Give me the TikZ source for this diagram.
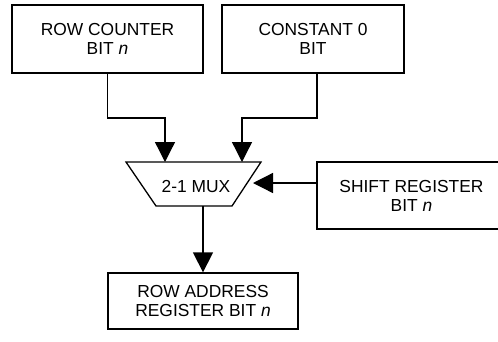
\documentclass[tikz,border=0pt]{standalone}
\usepackage{fontspec}
\setmainfont{Liberation Sans}
\usetikzlibrary{arrows.meta}
\begin{document}
\begin{tikzpicture}[x=1pt,y=-1pt,
  txt/.style={align=center,font=\fontsize{17.4}{19}\selectfont},
  blk/.style={draw,line width=1.3pt,inner sep=0pt,txt},
  conn/.style={line width=1.3pt,-{Triangle[length=20pt,width=20pt]}}]
\useasboundingbox (0,0) rectangle (498,341);
\node[blk,minimum width=191pt,minimum height=68pt] (rc) at (107.5,39) {ROW COUNTER\\BIT \textit{n}};
\node[blk,minimum width=182pt,minimum height=68pt] (c0) at (313,39) {CONSTANT 0\\BIT};
\node[blk,minimum width=200pt,minimum height=67pt] (sr) at (417,195.5) {};
\node[txt] (srt) at (411.5,195.5) {SHIFT REGISTER\\BIT \textit{n}};
\node[blk,minimum width=190pt,minimum height=56pt] (ra) at (203,301) {ROW ADDRESS\\REGISTER BIT \textit{n}};
\draw[line width=1.3pt] (126,162) -- (261,162) -- (232,206) -- (156,206) -- cycle;
\node[txt] (mux) at (196,187) {2-1 MUX};
\coordinate (m1) at (165,162);
\coordinate (m2) at (242,162);
\coordinate (m3) at (253,183);
\coordinate (m4) at (203,206);
\draw[conn] (rc.south) |- (165,118) -- (m1);
\draw[conn] ([xshift=4pt]c0.south) |- (242,118) -- (m2);
\draw[conn] (sr.west |- m3) -- (m3);
\draw[conn] (m4) -- (ra.north);
\end{tikzpicture}
\end{document}
